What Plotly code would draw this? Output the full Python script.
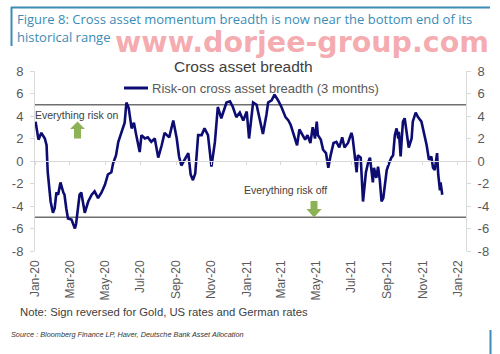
import plotly.graph_objects as go

# ---------------- data ----------------
dates = [
    "2020-01-02", "2020-01-07", "2020-01-12", "2020-01-18", "2020-01-21", "2020-01-23",
    "2020-01-28", "2020-02-01", "2020-02-04", "2020-02-07", "2020-02-10", "2020-02-14",
    "2020-02-19", "2020-02-21", "2020-02-24", "2020-02-27", "2020-03-04", "2020-03-07",
    "2020-03-10", "2020-03-12", "2020-03-15", "2020-03-18", "2020-03-21", "2020-03-27",
    "2020-04-02", "2020-04-08", "2020-04-13", "2020-04-19", "2020-04-25", "2020-05-01",
    "2020-05-06", "2020-05-12", "2020-05-15", "2020-05-20", "2020-05-24", "2020-05-29",
    "2020-06-04", "2020-06-07", "2020-06-11", "2020-06-16", "2020-06-20", "2020-06-24",
    "2020-06-30", "2020-07-03", "2020-07-09", "2020-07-14", "2020-07-20", "2020-07-26",
    "2020-08-01", "2020-08-07", "2020-08-12", "2020-08-20", "2020-08-27", "2020-09-02",
    "2020-09-06", "2020-09-10", "2020-09-16", "2020-09-22", "2020-09-26", "2020-09-30",
    "2020-10-04", "2020-10-09", "2020-10-15", "2020-10-20", "2020-10-26", "2020-11-01",
    "2020-11-07", "2020-11-12", "2020-11-18", "2020-11-27", "2020-12-03", "2020-12-08",
    "2020-12-14", "2020-12-20", "2020-12-26", "2021-01-01", "2021-01-05", "2021-01-12",
    "2021-01-18", "2021-01-23", "2021-01-29", "2021-02-04", "2021-02-07", "2021-02-13",
    "2021-02-18", "2021-02-24", "2021-03-02", "2021-03-09", "2021-03-14", "2021-03-18",
    "2021-03-23", "2021-03-29", "2021-04-02", "2021-04-08", "2021-04-12", "2021-04-16",
    "2021-04-21", "2021-04-25", "2021-04-29", "2021-05-02", "2021-05-04", "2021-05-09",
    "2021-05-13", "2021-05-18", "2021-05-22", "2021-05-26", "2021-05-31", "2021-06-05",
    "2021-06-10", "2021-06-15", "2021-06-19", "2021-06-25", "2021-07-01", "2021-07-03",
    "2021-07-07", "2021-07-10", "2021-07-12", "2021-07-17", "2021-07-21", "2021-07-26",
    "2021-07-30", "2021-08-02", "2021-08-07", "2021-08-09", "2021-08-13", "2021-08-16",
    "2021-08-19", "2021-08-22", "2021-08-25", "2021-08-28", "2021-08-31", "2021-09-04",
    "2021-09-08", "2021-09-11", "2021-09-14", "2021-09-17", "2021-09-20", "2021-09-21",
    "2021-09-24", "2021-09-26", "2021-09-28", "2021-10-01", "2021-10-04", "2021-10-08",
    "2021-10-13", "2021-10-15", "2021-10-20", "2021-10-24", "2021-10-30", "2021-11-03",
    "2021-11-08", "2021-11-12", "2021-11-16", "2021-11-19", "2021-11-22", "2021-11-26",
    "2021-11-28", "2021-12-01", "2021-12-02", "2021-12-05",
]
breadth = [
    3.5, 1.9, 2.5, 2.0, 1.4, -1.0,
    -3.6, -4.6, -4.2, -2.8, -3.0, -1.9,
    -2.8, -3.0, -4.2, -5.1, -5.2, -5.7,
    -6.0, -5.6, -4.2, -3.0, -2.8, -4.6,
    -3.6, -3.0, -2.7, -3.3, -2.8, -2.1,
    -1.2, -1.0, -0.2, 0.5, 1.7, 2.5,
    3.4, 5.2, 4.7, 2.9, 3.4, 2.3,
    0.8, 2.3, 2.0, 2.1, 1.7, 2.0,
    0.3, 1.4, 2.5, 2.1, 3.6, 2.0,
    0.4, -0.4, 0.1, 0.7, -1.2, -1.7,
    -1.1, 2.3, 2.3, 2.9, 2.3, -0.5,
    1.7, 4.8, 3.8, 5.2, 5.3, 4.8,
    3.9, 4.3, 3.6, 4.4, 2.0, 5.2,
    5.0, 3.8, 2.4, 4.1, 5.2, 5.4,
    5.9, 5.4, 4.8, 3.9, 3.6, 3.2,
    2.3, 1.4, 2.8, 2.3, 1.9, 2.3,
    1.6, 3.0, 2.0, 3.5, 2.3, 1.9,
    1.0, 0.7, -0.6, 0.5, 1.6, 1.7,
    1.2, 2.1, 1.2, 1.6, 2.5, 2.1,
    0.3, -1.0, 0.5, 0.3, -3.6, -1.0,
    -0.1, 0.3, -1.9, -0.6, -1.5, -0.5,
    -1.7, -3.6, -3.3, -2.1, -0.8, -0.2,
    0.3, 0.5, 2.3, 2.9, 2.0, 2.6,
    0.4, 2.0, 3.5, 3.8, 2.6, 1.2,
    2.0, 3.5, 4.3, 3.9, 3.5, 2.6,
    1.4, 0.1, 0.4, -0.6, -0.8, 0.7,
    -1.2, -2.6, -1.9, -3.0,
]
series_name = "Risk-on cross asset breadth (3 months)"
x_tickvals = ["2020-01-01", "2020-03-01", "2020-05-01", "2020-07-01", "2020-09-01",
              "2020-11-01", "2021-01-01", "2021-03-01", "2021-05-01", "2021-07-01",
              "2021-09-01", "2021-11-01", "2022-01-01"]
x_ticktext = ["Jan-20", "Mar-20", "May-20", "Jul-20", "Sep-20", "Nov-20", "Jan-21",
              "Mar-21", "May-21", "Jul-21", "Sep-21", "Nov-21", "Jan-22"]
y_tickvals = [-8, -6, -4, -2, 0, 2, 4, 6, 8]
y_ticktext = ["-8", "-6", "-4", "-2", "0", "2", "4", "6", "8"]
thresholds = [5, -5]

# ---------------- layout helpers (pixels -> paper) ----------------
W, H = 500, 354
L, R, T, B = 35, 466, 71, 251


def fx(x):
    return (x - L) / (R - L)


def fy(y):
    return (B - y) / (B - T)


LINE_COLOR = "#0c0c72"
GRAY_TXT = "#595959"
DARK_TXT = "#404040"
AXIS_GRAY = "#d9d9d9"
GREEN = "#8db255"
BLUE = "#3a8cb5"
FONT = "Liberation Sans, Arial, sans-serif"

fig = go.Figure()
fig.add_trace(go.Scatter(x=dates, y=breadth, mode="lines", name=series_name,
                         line=dict(color=LINE_COLOR, width=2.6), showlegend=False,
                         hoverinfo="x+y"))
# invisible trace to bind the right-hand and zero-line axes
fig.add_trace(go.Scatter(x=dates, y=breadth, mode="lines", xaxis="x2", yaxis="y2",
                         line=dict(color="rgba(0,0,0,0)", width=0), showlegend=False,
                         hoverinfo="skip"))

xr = ["2020-01-01", "2022-01-15"]
yr = [-8, 8]

fig.update_layout(
    width=W, height=H,
    margin=dict(l=L, r=W - R, t=T, b=H - B),
    paper_bgcolor="white", plot_bgcolor="white",
    font=dict(family=FONT, size=12, color=GRAY_TXT),
    showlegend=False,
    xaxis=dict(range=xr, tickvals=x_tickvals, ticktext=x_ticktext, tickangle=-90,
               showgrid=False, zeroline=False, showline=False, ticks="",
               tickfont=dict(size=12, color=GRAY_TXT), ticklabelstandoff=6),
    xaxis2=dict(range=xr, overlaying="x", anchor="free", position=0.5,
                tickvals=x_tickvals, showticklabels=False, showgrid=False,
                zeroline=False, showline=True, linecolor=AXIS_GRAY, linewidth=1,
                ticks="outside", ticklen=3, tickcolor=AXIS_GRAY),
    yaxis=dict(range=yr, tickvals=y_tickvals, ticktext=y_ticktext, showgrid=False,
               zeroline=False, showline=True, linecolor=AXIS_GRAY, linewidth=1,
               ticks="outside", ticklen=4, tickcolor=AXIS_GRAY,
               tickfont=dict(size=13, color=GRAY_TXT), ticklabelstandoff=4),
    yaxis2=dict(range=yr, tickvals=y_tickvals, ticktext=y_ticktext, overlaying="y",
                side="right", showgrid=False, zeroline=False, showline=True,
                linecolor=AXIS_GRAY, linewidth=1, ticks="outside", ticklen=4,
                tickcolor=AXIS_GRAY, tickfont=dict(size=13, color=GRAY_TXT),
                ticklabelstandoff=4),
)

shapes = []
for t in thresholds:
    shapes.append(dict(type="line", xref="x domain", yref="y", x0=0, x1=1, y0=t, y1=t,
                       line=dict(color="#6f6f6f", width=1.5), layer="below"))

# legend sample line
shapes.append(dict(type="line", xref="paper", yref="paper", x0=fx(124), x1=fx(148),
                   y0=fy(88), y1=fy(88), line=dict(color=LINE_COLOR, width=3)))


def arrow_path(pts):
    s = "M " + " L ".join(f"{fx(x):.5f},{fy(y):.5f}" for x, y in pts) + " Z"
    return s


up = [(77.5, 121.5), (85, 129), (81, 129), (81, 138.5), (74, 138.5), (74, 129), (70, 129)]
down = [(314, 217.5), (321.7, 209), (317.5, 209), (317.5, 201), (310.5, 201), (310.5, 209),
        (306.5, 209)]
for p in (up, down):
    shapes.append(dict(type="path", xref="paper", yref="paper", path=arrow_path(p),
                       fillcolor=GREEN, line=dict(width=0)))

# header frame
shapes.append(dict(type="line", xref="paper", yref="paper", x0=fx(11), x1=fx(490),
                   y0=fy(7.5), y1=fy(7.5), line=dict(color=BLUE, width=2)))
shapes.append(dict(type="line", xref="paper", yref="paper", x0=fx(11.5), x1=fx(11.5),
                   y0=fy(7), y1=fy(46), line=dict(color=BLUE, width=2)))
shapes.append(dict(type="line", xref="paper", yref="paper", x0=fx(490.5), x1=fx(490.5),
                   y0=fy(330), y1=fy(354), line=dict(color=BLUE, width=2)))
fig.update_layout(shapes=shapes)

ann = []


def text(x, y, s, size, color, xanchor="left", family=FONT, **kw):
    ann.append(dict(x=fx(x), y=fy(y), xref="paper", yref="paper", text=s,
                    showarrow=False, xanchor=xanchor, yanchor="middle",
                    font=dict(size=size, color=color, family=family), **kw))


HEAD_FONT = "Open Sans, Noto Sans, sans-serif"
text(15, 19.5, "Figure 8: Cross asset momentum breadth is now near the bottom end of its",
     13, BLUE, family=HEAD_FONT)
text(15, 37, "historical range", 13, BLUE, family=HEAD_FONT)
text(302, 42.5, "<b>www.dorjee-group.com</b>", 28.5, "rgba(238,100,110,0.55)",
     xanchor="center", family="DejaVu Sans, sans-serif")
text(243, 66.5, "Cross asset breadth", 15.5, DARK_TXT, xanchor="center")
text(150, 88, series_name, 13, GRAY_TXT)
text(33, 115, "Everything risk on", 10.5, DARK_TXT)
text(242, 190, "Everything risk off", 10.5, DARK_TXT)
text(18, 312, "Note: Sign reversed for Gold, US rates and German rates", 11.3, DARK_TXT)
text(9, 334, "<i>Source : Bloomberg Finance LP, Haver, Deutsche Bank Asset Allocation</i>",
     7.3, "#333333")
fig.update_layout(annotations=ann)

fig.write_html("out.html")
